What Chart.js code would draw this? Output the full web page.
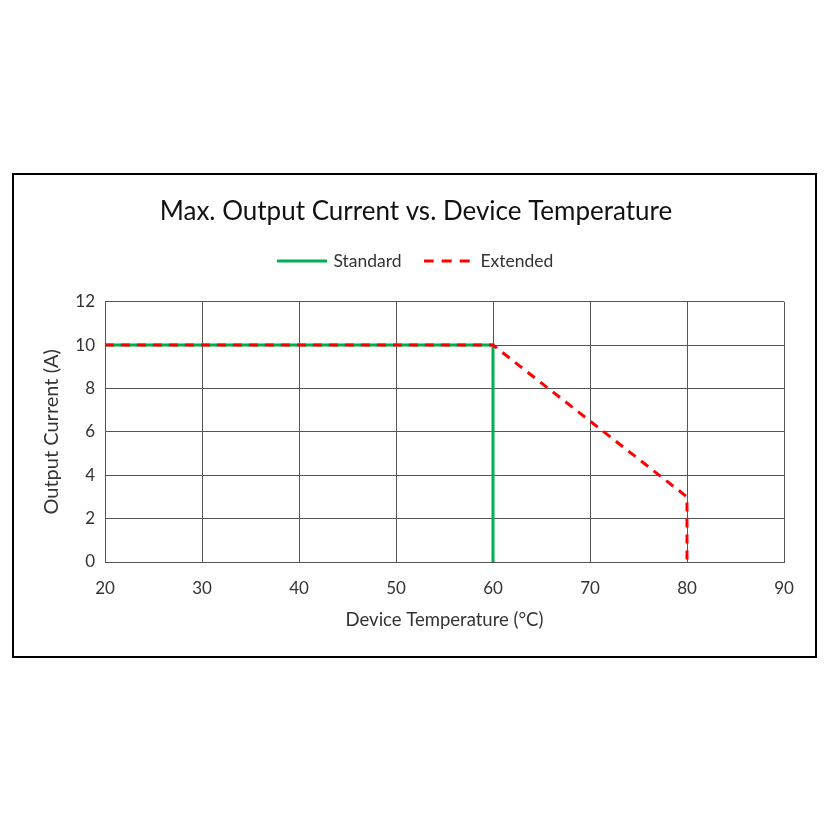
<!DOCTYPE html>
<html>
<head>
<meta charset="utf-8">
<script src="https://cdn.jsdelivr.net/npm/chart.js@4.4.1/dist/chart.umd.min.js"></script>
<style>
  html, body { margin: 0; padding: 0; background: #ffffff; }
  body { width: 825px; height: 825px; position: relative; overflow: hidden; }
  #frame { position: absolute; left: 12px; top: 173px; width: 805px; height: 485px; box-sizing: border-box; border: 2px solid #000; background: #fff; }
  #wrap { position: absolute; left: 0; top: 0; width: 801px; height: 481px; }
</style>
</head>
<body>
<div id="frame"><div id="wrap"><canvas id="c" width="801" height="481"></canvas></div></div>
<script>
const chartTitle = "Max. Output Current vs. Device Temperature";
const xAxisTitle = "Device Temperature (°C)";
const yAxisTitle = "Output Current (A)";
const seriesNames = ["Standard", "Extended"];
const standardTemp = [20, 60, 60];
const standardCurrent = [10, 10, 0];
const extendedTemp = [20, 60, 80, 80];
const extendedCurrent = [10, 10, 3, 0];
const xTicks = [20, 30, 40, 50, 60, 70, 80, 90];
const yTicks = [0, 2, 4, 6, 8, 10, 12];

const GREEN = '#00b050';
const RED = '#ff0000';
const FONT = 'Lato';
const TEXT = '#333333';
const LEGEND_EXTRA = 22;

function legendSwatch(color, dash) {
  const cv = document.createElement('canvas');
  cv.width = 50; cv.height = 6;
  const g = cv.getContext('2d');
  g.strokeStyle = color; g.lineWidth = 3; g.setLineDash(dash);
  g.beginPath(); g.moveTo(0, 3); g.lineTo(50, 3); g.stroke();
  return cv;
}

const toPts = (xs, ys) => xs.map((x, i) => ({ x: x, y: ys[i] }));

const legendSpacer = {
  id: 'legendSpacer',
  beforeUpdate(chart) {
    const lg = chart.legend;
    if (lg && !lg._patched) {
      const orig = lg.fit;
      lg.fit = function () { orig.call(this); this.height += LEGEND_EXTRA; };
      lg._patched = true;
    }
  }
};

new Chart(document.getElementById('c'), {
  type: 'scatter',
  plugins: [legendSpacer],
  data: {
    datasets: [
      {
        label: seriesNames[0],
        data: toPts(standardTemp, standardCurrent),
        showLine: true, borderColor: GREEN, backgroundColor: GREEN,
        borderWidth: 3, pointRadius: 0, pointHoverRadius: 0, tension: 0,
        pointStyle: legendSwatch(GREEN, []), order: 2
      },
      {
        label: seriesNames[1],
        data: toPts(extendedTemp, extendedCurrent),
        showLine: true, borderColor: RED, backgroundColor: RED,
        borderWidth: 3, borderDash: [9, 7], pointRadius: 0, pointHoverRadius: 0, tension: 0,
        pointStyle: legendSwatch(RED, [10, 8]), order: 1
      }
    ]
  },
  options: {
    responsive: false,
    animation: false,
    devicePixelRatio: 1,
    layout: { padding: { left: 34, right: 31, top: 0, bottom: 21 } },
    plugins: {
      title: {
        display: true, text: chartTitle, color: '#111',
        font: { family: FONT, size: 26, weight: 'normal' },
        padding: { top: 21, bottom: 1 }
      },
      legend: {
        display: true, position: 'top',
        labels: {
          usePointStyle: true, pointStyleWidth: 46, color: TEXT,
          font: { family: FONT, size: 17.5 },
          padding: 24,
          sort: (a, b) => a.datasetIndex - b.datasetIndex
        }
      },
      tooltip: { enabled: false }
    },
    scales: {
      x: {
        type: 'linear', min: 20, max: 90,
        afterFit: s => { s.height = 73; },
        afterBuildTicks: s => { s.ticks = xTicks.map(v => ({ value: v })); },
        ticks: { color: TEXT, font: { family: FONT, size: 17 }, padding: 16 },
        grid: { color: '#555', lineWidth: 1, drawTicks: false },
        border: { color: '#555', width: 1 },
        title: { display: true, text: xAxisTitle, color: TEXT, font: { family: FONT, size: 18.5 }, padding: 4 }
      },
      y: {
        type: 'linear', min: 0, max: 12,
        afterFit: s => { s.width = 57; },
        afterBuildTicks: s => { s.ticks = yTicks.map(v => ({ value: v })); },
        ticks: { color: TEXT, font: { family: FONT, size: 17 }, padding: 10 },
        grid: { color: '#555', lineWidth: 1, drawTicks: false },
        border: { color: '#555', width: 1 },
        title: { display: true, text: yAxisTitle, color: TEXT, font: { family: FONT, size: 20 }, padding: { top: -8, bottom: 4 } }
      }
    }
  }
});
</script>
</body>
</html>
